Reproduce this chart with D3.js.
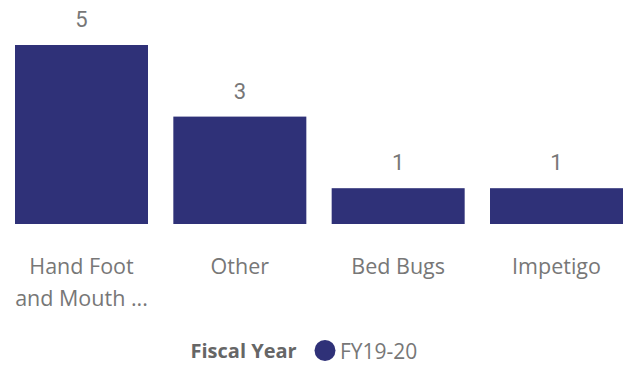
<!DOCTYPE html>
<html>
<head>
<meta charset="utf-8">
<script src="https://cdn.jsdelivr.net/npm/d3@7"></script>
<style>
  html, body { margin: 0; padding: 0; background: #fff; }
  svg { display: block; }
</style>
</head>
<body>
<svg id="chart" width="625" height="365"></svg>
<script>
const categories = ["Hand Foot and Mouth Disease", "Other", "Bed Bugs", "Impetigo"];
const categoryLines = [["Hand Foot", "and Mouth ..."], ["Other"], ["Bed Bugs"], ["Impetigo"]];
const values = [5, 3, 1, 1];
const seriesName = "FY19-20";
const legendTitle = "Fiscal Year";

const svg = d3.select("#chart");
const barColor = "#2f3178";

const x = d3.scaleBand().domain(categories).range([15, 623]).paddingInner(0.16).paddingOuter(0);
const y = d3.scaleLinear().domain([0, 5]).range([224, 45]);

svg.append("g").selectAll("rect").data(values).join("rect")
  .attr("x", (d, i) => x(categories[i]))
  .attr("y", d => y(d))
  .attr("width", x.bandwidth())
  .attr("height", d => y(0) - y(d))
  .attr("fill", barColor);

svg.append("g").selectAll("text").data(values).join("text")
  .attr("x", (d, i) => x(categories[i]) + x.bandwidth() / 2)
  .attr("y", d => y(d) - 25.7)
  .attr("dy", "0.36em")
  .attr("text-anchor", "middle")
  .attr("font-family", "Roboto, sans-serif")
  .attr("font-size", 22)
  .attr("fill", "#777")
  .text(d => d);

const catG = svg.append("g");
categories.forEach((c, i) => {
  const t = catG.append("text")
    .attr("x", x(c) + x.bandwidth() / 2)
    .attr("text-anchor", "middle")
    .attr("font-family", "'Open Sans', sans-serif")
    .attr("font-size", 21.5)
    .attr("fill", "#777");
  categoryLines[i].forEach((line, j) => {
    t.append("tspan")
      .attr("x", x(c) + x.bandwidth() / 2)
      .attr("y", 266.5 + j * 32)
      .attr("dy", "0.36em")
      .text(line);
  });
});

const lg = svg.append("g");
lg.append("text")
  .attr("x", 190.5).attr("y", 351).attr("dy", "0.36em")
  .attr("font-family", "'Open Sans', sans-serif")
  .attr("font-size", 20).attr("font-weight", "bold")
  .attr("fill", "#666")
  .text(legendTitle);
lg.append("circle").attr("cx", 325).attr("cy", 350.5).attr("r", 10.5).attr("fill", barColor);
lg.append("text")
  .attr("x", 340).attr("y", 351).attr("dy", "0.36em")
  .attr("font-family", "'Open Sans', sans-serif")
  .attr("font-size", 21)
  .attr("fill", "#777")
  .text(seriesName);
</script>
</body>
</html>
